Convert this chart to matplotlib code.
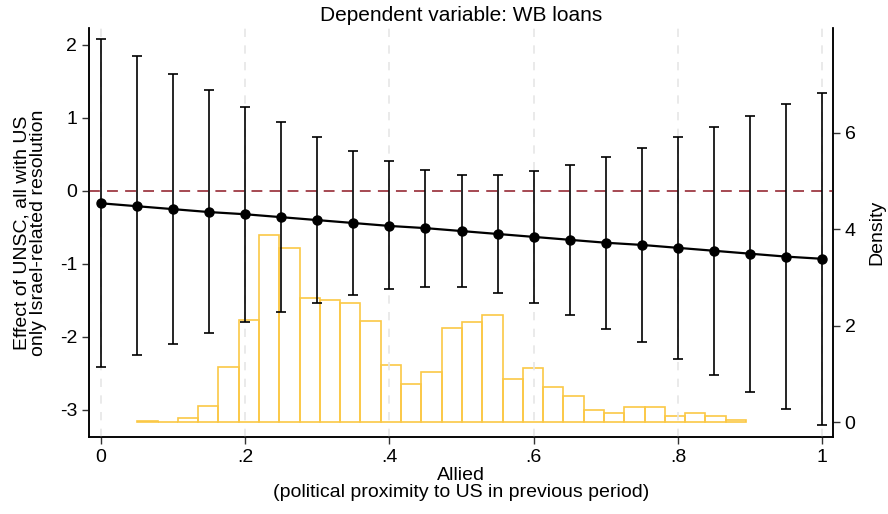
import numpy as np
import matplotlib
matplotlib.use("Agg")
import matplotlib.pyplot as plt

plt.rcParams['font.family'] = ['Liberation Sans', 'DejaVu Sans']
plt.rcParams['axes.unicode_minus'] = False

# marginal effect of UNSC membership across values of "Allied"
allied = [0, .05, .1, .15, .2, .25, .3, .35, .4, .45, .5,
          .55, .6, .65, .7, .75, .8, .85, .9, .95, 1]
effect = [-0.17, -0.21, -0.25, -0.29, -0.32, -0.36, -0.40, -0.44, -0.48, -0.51, -0.55,
          -0.59, -0.63, -0.67, -0.71, -0.74, -0.78, -0.82, -0.86, -0.90, -0.93]
ci_upper = [2.08, 1.84, 1.60, 1.38, 1.15, 0.94, 0.74, 0.55, 0.41, 0.29, 0.22,
            0.22, 0.27, 0.36, 0.47, 0.59, 0.74, 0.88, 1.03, 1.19, 1.34]
ci_lower = [-2.41, -2.25, -2.10, -1.94, -1.79, -1.66, -1.53, -1.42, -1.35, -1.31, -1.32,
            -1.40, -1.53, -1.70, -1.89, -2.07, -2.30, -2.52, -2.75, -2.99, -3.20]

# density of Allied in the sample (30 bins)
hist_start = 0.0503
hist_width = 0.02814
hist_density = [0.03, 0.0, 0.076, 0.33, 1.14, 2.11, 3.87, 3.61, 2.57, 2.54,
                2.47, 2.09, 1.18, 0.79, 1.04, 1.96, 2.07, 2.22, 0.90, 1.13,
                0.73, 0.54, 0.24, 0.18, 0.32, 0.32, 0.12, 0.18, 0.12, 0.05]

x_ticks = [0, .2, .4, .6, .8, 1]
x_ticklabels = ["0", ".2", ".4", ".6", ".8", "1"]
y_ticks = [-3, -2, -1, 0, 1, 2]
dens_ticks = [0, 2, 4, 6]

fig = plt.figure(figsize=(8.88, 5.14), dpi=100)
ax = fig.add_axes([0.1002, 0.1498, 0.8378, 0.7957])
ax2 = ax.twinx()
ax.set_zorder(ax2.get_zorder() + 1)
ax.patch.set_visible(False)

# histogram on the density axis
edges = hist_start + hist_width * np.arange(len(hist_density))
ax2.bar(edges, hist_density, width=hist_width, align='edge',
        facecolor='none', edgecolor='#fbc846', linewidth=1.2)
ax2.set_ylim(-0.31, 8.17)
ax2.set_yticks(dens_ticks)
ax2.set_ylabel("Density", fontsize=14, labelpad=9)

# vertical reference lines at the x ticks
for xv in x_ticks:
    ax.axvline(xv, color='#e6e6e6', lw=1.2, ls=(0, (5, 5)), zorder=0)

ax.axhline(0, color='#9e3a44', lw=1.3, ls=(0, (6, 4)), zorder=1)

yerr = [np.array(effect) - np.array(ci_lower), np.array(ci_upper) - np.array(effect)]
ax.errorbar(allied, effect, yerr=yerr, fmt='none', ecolor='black',
            elinewidth=1.2, capsize=3.5, capthick=1.2, zorder=2)
ax.plot(allied, effect, color='black', lw=1.6, marker='o', ms=6.5, zorder=3)

ax.set_xlim(-0.0166, 1.015)
ax.set_ylim(-3.37, 2.23)
ax.set_xticks(x_ticks)
ax.set_xticklabels(x_ticklabels)
ax.set_yticks(y_ticks)

ax.set_title("Dependent variable: WB loans", fontsize=15, pad=5)
ax.set_xlabel("Allied\n(political proximity to US in previous period)",
              fontsize=14, linespacing=0.95, labelpad=1)
ax.set_ylabel("Effect of UNSC, all with US\nonly Israel-related resolution",
              fontsize=14, linespacing=0.95, labelpad=9)

for a in (ax, ax2):
    a.spines['top'].set_visible(False)
    a.tick_params(labelsize=14, length=5, width=1, color='#333333')
    for s in a.spines.values():
        s.set_linewidth(1.1)

fig.savefig("out.png", dpi=100)
